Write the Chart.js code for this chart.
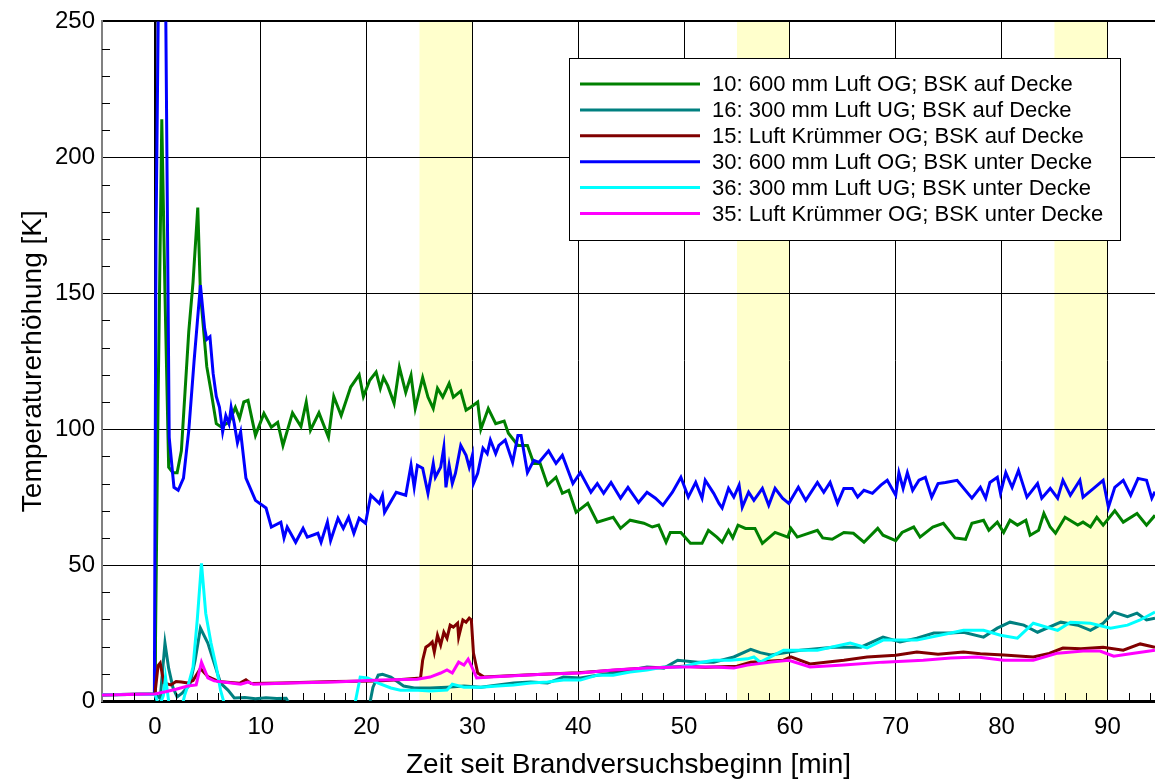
<!DOCTYPE html>
<html lang="de">
<head>
<meta charset="utf-8">
<title>Temperaturerhöhung</title>
<script src="https://cdn.jsdelivr.net/npm/chart.js@4/dist/chart.umd.min.js"></script>
<style>
  html, body { margin: 0; padding: 0; background: #fff; }
  #wrap { width: 1155px; height: 784px; position: relative; }
</style>
</head>
<body>
<div id="wrap"><canvas id="chart"></canvas></div>
<script>
// Messstellen, jeweils [Zeit in min, Temperaturerhöhung in K]
const mp10 = [[-5,2.3],[0,2.5],[0.3,110],[0.65,214],[0.95,150],[1.3,86],[1.7,84],[2.1,84],[2.5,92],[3.2,136],[3.6,154],[4.05,181.5],[4.3,150],[4.9,123],[5.3,114],[5.8,102],[6.2,101],[7.0,102.5],[7.6,108],[8.0,104],[8.4,110],[8.8,110.6],[9.5,97.7],[10.3,105.8],[11.0,100.7],[11.6,102.5],[12.1,94],[13.0,106],[13.8,101],[14.3,110],[14.7,99.6],[15.5,106],[16.4,97],[16.9,112],[17.6,105],[18.5,115.5],[19.3,120],[19.7,112],[20.3,118],[20.9,121],[21.3,115],[21.6,119],[22.0,116],[22.6,109.5],[23.1,122.8],[23.7,113.5],[24.2,119.8],[24.6,107.6],[25.3,119],[25.8,111.8],[26.3,107.6],[26.7,115],[27.2,111.8],[27.8,116.8],[28.2,111.8],[28.9,114],[29.4,107],[29.8,108],[30.5,110],[30.8,100],[31.5,107.6],[32.2,102],[33.0,103],[33.4,98.5],[34.3,94],[35.2,94],[35.8,87.4],[36.4,87.4],[37.1,79.4],[37.9,82.3],[38.5,76.4],[39.1,77.5],[39.8,69.4],[40.9,72.7],[41.8,65.8],[43.3,67.6],[44.0,63.5],[44.9,66.5],[46.2,65.4],[47.0,64],[47.6,64.7],[48.3,58.4],[48.7,62],[49.7,62],[50.6,58],[51.7,58],[52.3,62.8],[53.1,60.3],[53.6,58.4],[54.2,62.8],[54.6,60],[55.1,64.7],[55.8,63.5],[56.7,63.5],[57.4,58],[58.6,62],[59.8,60.3],[60.1,63.5],[60.7,60.3],[62.6,62.8],[63.1,60],[64.0,59.5],[65.1,62],[66.0,61.7],[67.0,58.4],[68.3,63.5],[68.8,61],[70.0,59],[70.6,62],[71.7,64],[72.3,60.3],[73.5,64],[74.5,65.4],[75.6,60],[76.6,59.5],[77.2,65.4],[78.3,66.5],[78.8,62.8],[79.6,65.8],[80.2,62],[80.8,66.5],[81.5,64.7],[82.3,66.5],[82.7,61],[83.5,62.8],[84.0,69],[84.6,64],[85.1,61.7],[86.0,67.6],[87.2,64.7],[87.7,65.8],[88.4,64],[89.0,67.6],[89.6,64.7],[90.7,70],[91.5,65.8],[92.8,69],[93.7,64.7],[94.5,68.3]];

const mp16 = [[-5,2.3],[0,2.5],[0.5,1],[0.95,21.3],[1.3,12],[1.7,5],[2.1,1.5],[2.6,3],[3.3,6],[3.8,15],[4.3,26.8],[5.0,21.3],[5.6,14],[6.2,6.6],[6.9,4],[7.5,1.1],[8.5,1.3],[9.5,0.8],[10.5,1.2],[11.5,0.9],[12.4,1.0],[13.0,-3],[20.2,-3],[20.6,5],[21.1,9.5],[21.5,9.8],[22.3,8.8],[23.5,5.5],[24.5,4.8],[26.0,4.8],[27.6,5.1],[29.2,5.5],[30.8,5.1],[32.4,5.9],[33.9,6.6],[35.5,7],[37.1,6.6],[38.6,8.8],[40.2,8.5],[41.8,9.5],[43.3,10.3],[44.9,11.4],[46.5,12.5],[48.1,12.1],[49.4,15],[51.3,14.3],[52.8,14.3],[54.7,16.2],[56.3,19],[57.2,17.8],[58.2,16.9],[61.0,18.7],[64.1,19.8],[66.7,19.8],[68.8,23.5],[70.4,21.7],[72.0,23.1],[73.6,25],[75.2,25],[76.4,25.3],[78.3,23.5],[79.6,26.8],[80.8,29],[82.1,27.9],[83.4,25.3],[85.6,29],[87.2,27.9],[88.4,26],[89.6,28.6],[90.6,32.7],[91.9,31],[92.8,32.3],[93.7,29.8],[94.5,30.5]];

const mp15 = [[-5,2.3],[0,2.6],[0.3,13],[0.5,14],[0.85,6.6],[1.5,5.9],[2.0,7.2],[2.5,7],[3.1,6.6],[3.6,7.5],[4.3,12],[5.0,9],[6.0,7.2],[8.0,6.5],[8.6,7.8],[9.1,6.4],[12.0,6.6],[17.0,7.2],[21.0,7.4],[23.0,7.8],[25.1,8.5],[25.3,15],[25.6,19.8],[25.9,20.6],[26.2,21.7],[26.4,18],[26.7,24.2],[27.0,20.6],[27.3,25.3],[27.6,23.1],[27.9,27.9],[28.2,27.2],[28.6,28.6],[28.7,23.5],[29.1,29.8],[29.4,29],[29.7,30.5],[29.9,29.8],[30.1,17.6],[30.5,10.3],[31.1,8.8],[35.0,9.6],[40.0,10.4],[45.0,11.8],[50.0,12.8],[52.0,12.4],[55.0,12.8],[56.3,14.3],[59.4,15],[60.1,16.2],[61.9,13.6],[65.1,15],[67.3,16.2],[70.0,16.8],[72.0,18],[74.0,17.2],[76.4,18],[78.0,17.4],[80.2,16.9],[83.0,16.2],[84.5,17.5],[85.8,19.5],[87.5,19.2],[89.6,19.8],[91.5,18.7],[93.1,21],[94.5,19.8]];

const mp30 = [[-5,2.3],[-0.05,2.6],[0.1,170],[0.35,265],[1.0,265],[1.35,97],[1.8,78.6],[2.2,77.5],[2.7,82],[3.2,99.6],[3.7,125],[4.0,139],[4.3,153],[4.7,137],[4.9,133],[5.2,134],[5.5,120.5],[5.8,112],[6.1,108],[6.4,99],[6.7,105],[7.0,102],[7.2,108],[7.5,102],[7.8,95],[8.1,99],[8.6,82],[9.5,73.8],[10.5,71],[11.0,64],[11.9,65.8],[12.2,60],[12.5,64],[13.3,58.4],[14.0,63.5],[14.4,60.3],[15.4,61.7],[15.7,58.4],[16.3,65.8],[16.6,59],[17.3,67.2],[17.8,63.5],[18.3,67.6],[18.8,61.7],[19.3,67.2],[19.9,65.4],[20.4,75.7],[21.2,72.7],[21.5,75.7],[21.7,69.4],[22.8,76.8],[23.7,75.7],[24.2,86.7],[24.5,78.6],[24.8,86.7],[25.3,85.6],[25.8,76.4],[26.3,87.4],[26.5,82.3],[27.0,86],[27.3,93.3],[27.5,78.6],[27.8,86.7],[28.1,80],[28.4,83.8],[28.9,94],[29.4,90.4],[29.7,86],[30.0,90.4],[30.1,80],[30.5,83.8],[31.0,93],[31.4,91],[31.7,96],[32.2,91],[32.5,94],[33.1,96],[33.8,87.8],[34.3,97.7],[34.6,97.7],[35.2,84],[35.8,88.5],[36.3,87.8],[37.2,92],[37.9,87.4],[38.5,90.4],[39.5,80],[40.2,84],[41.2,76.8],[41.8,80],[42.4,76.4],[43.1,80.4],[44.0,74.6],[44.7,78.6],[45.7,73],[46.5,76.8],[47.3,74.6],[48.0,72],[48.9,76.8],[49.7,82.3],[50.4,75],[51.1,80.4],[51.7,74.6],[52.0,81.2],[52.8,76.4],[53.3,72.7],[53.6,71],[54.2,78.2],[54.7,75],[55.2,79.4],[55.5,71.3],[56.1,76.8],[56.6,73.8],[57.4,78.2],[58.0,72],[58.6,78.2],[59.3,74.6],[59.9,72.7],[60.8,78.6],[61.5,73.8],[62.6,80.4],[63.2,76.8],[63.8,80.4],[64.5,72.7],[65.1,78.2],[65.9,78.2],[66.4,75],[67.0,77.5],[67.8,76.4],[68.6,79.4],[69.2,81.2],[70.0,75.7],[70.3,84],[70.7,78.2],[71.1,84],[71.6,77.5],[72.2,81.2],[72.8,82.3],[73.4,75],[74.0,80],[74.7,80.4],[75.8,81.2],[77.2,74.6],[78.0,78.6],[78.5,74.6],[78.9,80.4],[79.6,82.3],[79.9,76.4],[80.4,84],[81.0,78.6],[81.6,84.8],[82.4,75],[83.4,80],[83.8,74.6],[84.6,78.2],[85.3,74.6],[85.8,81.2],[86.5,75.7],[87.4,81.2],[87.7,75],[88.7,78.2],[89.6,81.2],[90.1,71.3],[90.7,78.6],[91.5,81.2],[92.2,75.7],[92.9,81.9],[93.7,81.2],[94.2,74.6],[94.5,77]];

const mp36 = [[-5,2.3],[0,2.5],[0.4,-2],[0.8,2],[1.0,8.8],[1.4,-3],[2.5,-3],[2.8,2],[3.2,6.6],[3.6,12.5],[4.0,29.8],[4.4,50.6],[4.8,32.3],[5.3,21.3],[5.8,12.5],[6.2,4],[6.7,-3],[18.8,-3],[19.4,8.8],[20.1,8.5],[21.1,6.6],[22.3,4.8],[23.2,4],[24.5,4],[26.0,3.7],[27.6,4],[28.1,6.2],[29.2,5.1],[30.8,5.1],[32.4,5.5],[33.9,5.9],[35.5,6.6],[37.1,7],[38.6,7.7],[40.2,7.7],[41.8,9.5],[43.3,9.5],[44.9,10.7],[46.5,11.4],[48.1,12.5],[49.7,12.5],[51.3,14],[52.8,15],[54.4,15],[56.0,15.5],[56.6,16.2],[57.2,14.3],[59.4,18.7],[62.6,18.7],[65.7,21.3],[67.3,19.5],[68.8,22.4],[72.0,22.4],[75.2,25],[76.4,26],[78.3,26],[79.9,24.2],[81.5,23.1],[83.0,28.6],[85.3,26],[86.5,29],[88.4,28.6],[90.3,26.8],[91.9,27.9],[93.1,29.8],[94.5,32.7]];

const mp35 = [[-5,2.2],[0,2.6],[1.0,3.4],[2.0,4.3],[3.1,5.5],[3.9,5.9],[4.4,14.3],[5.0,8.5],[5.6,7.4],[8.1,6.2],[8.8,7],[9.3,6.2],[12.8,6.6],[17.0,7],[21.3,7.7],[24.8,8],[26.0,8.8],[27.0,10.3],[27.6,11.4],[28.1,10.3],[28.7,14.3],[29.2,13.2],[29.6,15.4],[30.0,12.1],[30.4,8.5],[31.7,8.8],[37.1,9.9],[40.2,10.3],[43.3,11.4],[46.5,12.1],[49.7,12.5],[52.8,12.5],[54.7,12.1],[56.0,13.2],[58.2,14.3],[59.9,15],[61.9,12.5],[65.1,13.2],[68.8,14.3],[72.6,15],[75.2,15.8],[77.7,16.2],[80.2,15],[83.0,15],[85.3,17.6],[87.7,18.4],[89.3,18.4],[90.6,16.5],[92.5,17.6],[94.5,18.7]];

const xTicks = [0, 10, 20, 30, 40, 50, 60, 70, 80, 90];
const yTicks = [0, 50, 100, 150, 200, 250];
// Zeitfenster der Beobachtung (gelb hinterlegt)
const bands = [[25, 30], [55, 60], [85, 90]];

const series = [
  { label: '10: 600 mm Luft OG; BSK auf Decke',     data: mp10, color: '#008000', order: 6 },
  { label: '16: 300 mm Luft UG; BSK auf Decke',     data: mp16, color: '#008080', order: 5 },
  { label: '15: Luft Krümmer OG; BSK auf Decke',    data: mp15, color: '#800000', order: 3 },
  { label: '30: 600 mm Luft OG; BSK unter Decke',   data: mp30, color: '#0000FF', order: 4 },
  { label: '36: 300 mm Luft UG; BSK unter Decke',   data: mp36, color: '#00FFFF', order: 2 },
  { label: '35: Luft Krümmer OG; BSK unter Decke',  data: mp35, color: '#FF00FF', order: 1 }
];

const FONT = "'Liberation Sans', Arial, Helvetica, sans-serif";

const bandPlugin = {
  id: 'bands',
  beforeDraw(chart) {
    const { ctx, chartArea: a, scales: { x } } = chart;
    ctx.save();
    ctx.fillStyle = '#FFFFCC';
    bands.forEach(([from, to]) => {
      const x0 = x.getPixelForValue(from), x1 = x.getPixelForValue(to);
      ctx.fillRect(x0, a.top, x1 - x0, a.bottom - a.top);
    });
    ctx.restore();
  }
};

// kleine Teilstriche innen an den Achsen
const minorTicks = {
  id: 'minorTicks',
  afterDatasetsDraw(chart) {
    const { ctx, chartArea: a, scales: { x, y } } = chart;
    ctx.save();
    ctx.strokeStyle = '#000';
    ctx.lineWidth = 1;
    ctx.beginPath();
    for (let v = 10; v < 250; v += 10) {
      if (v % 50 === 0) continue;
      const py = Math.round(y.getPixelForValue(v)) + 0.5;
      ctx.moveTo(a.left, py);
      ctx.lineTo(a.left + 8, py);
    }
    for (let t = -4; t <= 94; t += 2) {
      if (t % 10 === 0) continue;
      const px = Math.round(x.getPixelForValue(t)) + 0.5;
      ctx.moveTo(px, a.bottom);
      ctx.lineTo(px, a.bottom - 8);
    }
    ctx.stroke();
    ctx.restore();
  }
};

const boxLegend = {
  id: 'boxLegend',
  afterDraw(chart) {
    const { ctx } = chart;
    const left = 569, top = 58, w = 551, h = 182;
    ctx.save();
    ctx.fillStyle = '#fff';
    ctx.fillRect(left, top, w, h);
    ctx.strokeStyle = '#000';
    ctx.lineWidth = 1;
    ctx.strokeRect(left + 0.5, top + 0.5, w, h);
    ctx.font = '22px ' + FONT;
    ctx.textAlign = 'left';
    ctx.textBaseline = 'middle';
    series.forEach((s, i) => {
      const ry = top + 26 + i * 25.9;
      ctx.strokeStyle = s.color;
      ctx.lineWidth = 3;
      ctx.beginPath();
      ctx.moveTo(580, ry);
      ctx.lineTo(700, ry);
      ctx.stroke();
      ctx.fillStyle = '#000';
      ctx.fillText(s.label, 712, ry + 1);
    });
    ctx.restore();
  }
};

new Chart(document.getElementById('chart'), {
  type: 'line',
  data: {
    datasets: series.map(s => ({
      label: s.label,
      data: s.data.map(([t, k]) => ({ x: t, y: k })),
      borderColor: s.color,
      borderWidth: 3,
      pointRadius: 0,
      tension: 0,
      order: s.order
    }))
  },
  options: {
    responsive: true,
    maintainAspectRatio: false,
    animation: false,
    layout: { padding: { top: 20, right: 0, left: 0, bottom: 0 } },
    plugins: { legend: { display: false }, tooltip: { enabled: false } },
    scales: {
      x: {
        type: 'linear',
        min: -5,
        max: 94.5,
        afterBuildTicks: scale => { scale.ticks = xTicks.map(v => ({ value: v })); },
        afterFit: scale => { scale.height = 83; },
        grid: {
          color: '#000',
          lineWidth: c => (c.tick && c.tick.value === 0 ? 2.5 : 1),
          drawTicks: false
        },
        border: { color: '#000', width: 3 },
        ticks: { color: '#000', padding: 12, maxRotation: 0, font: { family: FONT, size: 24 } },
        title: {
          display: true,
          text: 'Zeit seit Brandversuchsbeginn [min]',
          color: '#000',
          padding: { top: 0, bottom: 2 },
          font: { family: FONT, size: 28 }
        }
      },
      y: {
        type: 'linear',
        min: 0,
        max: 250,
        afterBuildTicks: scale => { scale.ticks = yTicks.map(v => ({ value: v })); },
        afterFit: scale => { scale.width = 102; },
        grid: {
          color: '#000',
          lineWidth: c => (c.tick && c.tick.value === 250 ? 2 : 1),
          drawTicks: false
        },
        border: { color: '#808080', width: 2 },
        ticks: { color: '#000', padding: 7, font: { family: FONT, size: 24 } },
        title: {
          display: true,
          text: 'Temperaturerhöhung [K]',
          color: '#000',
          padding: { top: 16, bottom: 0 },
          font: { family: FONT, size: 28 }
        }
      }
    }
  },
  plugins: [bandPlugin, minorTicks, boxLegend]
});
</script>
</body>
</html>
